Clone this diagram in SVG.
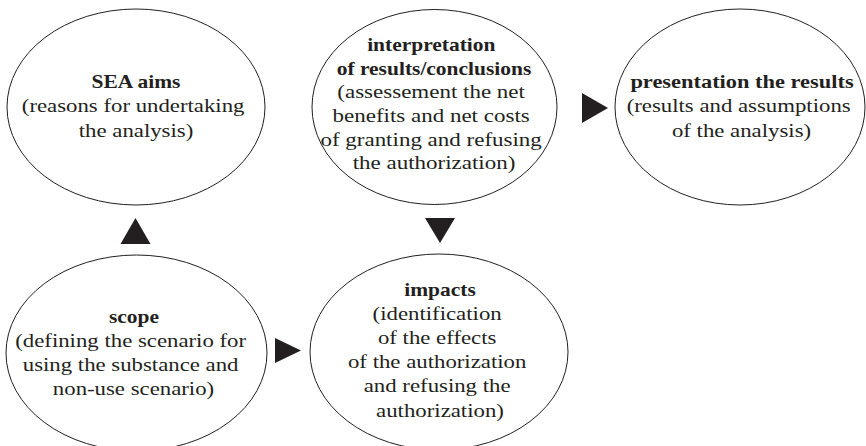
<svg xmlns="http://www.w3.org/2000/svg" width="866" height="446" viewBox="0 0 866 446">
  <style>
    .node { fill: #ffffff; stroke: #231f20; stroke-width: 1; }
    text { font-family: 'Liberation Serif', 'DejaVu Serif', serif; font-size: 19px; fill: #231f20; text-anchor: middle; }
    .b { font-weight: bold; }
    .head { fill: #231f20; stroke: none; }
  </style>
  <rect width="866" height="446" fill="#ffffff"/>

  <!-- SEA aims -->
  <g id="sea-aims">
    <ellipse class="node" cx="136" cy="107" rx="129" ry="98"/>
    <text class="b" transform="translate(136,0) scale(1.13,1)" x="0" y="88">SEA aims</text>
    <text transform="translate(136,0) scale(1.2,1)">
      <tspan x="0" y="112.5">(reasons for undertaking</tspan>
      <tspan x="0" y="137">the analysis)</tspan>
    </text>
  </g>

  <!-- interpretation of results -->
  <g id="interpretation">
    <ellipse class="node" cx="434.5" cy="107" rx="122.5" ry="97.5"/>
    <text class="b" transform="translate(434,0) scale(1.13,1)">
      <tspan x="0" y="51">interpretation</tspan>
      <tspan x="0" y="75">of results/conclusions</tspan>
    </text>
    <text transform="translate(434,0) scale(1.21,1)">
      <tspan x="0" y="98.5">(assessement the net</tspan>
      <tspan x="0" y="122">benefits and net costs</tspan>
      <tspan x="0" y="146">of granting and refusing</tspan>
      <tspan x="0" y="169.5">the authorization)</tspan>
    </text>
  </g>

  <!-- presentation of results -->
  <g id="presentation">
    <ellipse class="node" cx="740" cy="107" rx="125" ry="98"/>
    <text class="b" transform="translate(742,0) scale(1.18,1)" x="0" y="88">presentation the results</text>
    <text transform="translate(741.5,0) scale(1.2,1)">
      <tspan x="0" y="112.5">(results and assumptions</tspan>
      <tspan x="0" y="137">of the analysis)</tspan>
    </text>
  </g>

  <!-- scope -->
  <g id="scope">
    <ellipse class="node" cx="136.5" cy="353" rx="130.5" ry="98"/>
    <text class="b" transform="translate(134,0) scale(1.13,1)" x="0" y="323.5">scope</text>
    <text transform="translate(133.5,0) scale(1.2,1)">
      <tspan x="0" y="347.5">(defining the scenario for</tspan>
      <tspan x="0" y="371.5">using the substance and</tspan>
      <tspan x="0" y="395.5">non-use scenario)</tspan>
    </text>
  </g>

  <!-- impacts -->
  <g id="impacts">
    <ellipse class="node" cx="439" cy="352" rx="129" ry="98"/>
    <text class="b" transform="translate(440,0) scale(1.13,1)" x="0" y="296">impacts</text>
    <text transform="translate(440,0) scale(1.2,1)">
      <tspan x="0" y="320">(identification</tspan>
      <tspan x="0" y="344">of the effects</tspan>
      <tspan x="0" y="368.5">of the authorization</tspan>
      <tspan x="0" y="392.5">and refusing the</tspan>
      <tspan x="0" y="417">authorization)</tspan>
    </text>
  </g>

  <!-- connectors: solid triangular pointers between stages -->
  <g id="connectors">
    <polygon class="head" points="135.5,218 150.5,244 120.5,244"/>
    <polygon class="head" points="425,218 455,218 440,243"/>
    <polygon class="head" points="275,338 301,350.5 275,363"/>
    <polygon class="head" points="582,93 608,108 582,123"/>
  </g>
</svg>
